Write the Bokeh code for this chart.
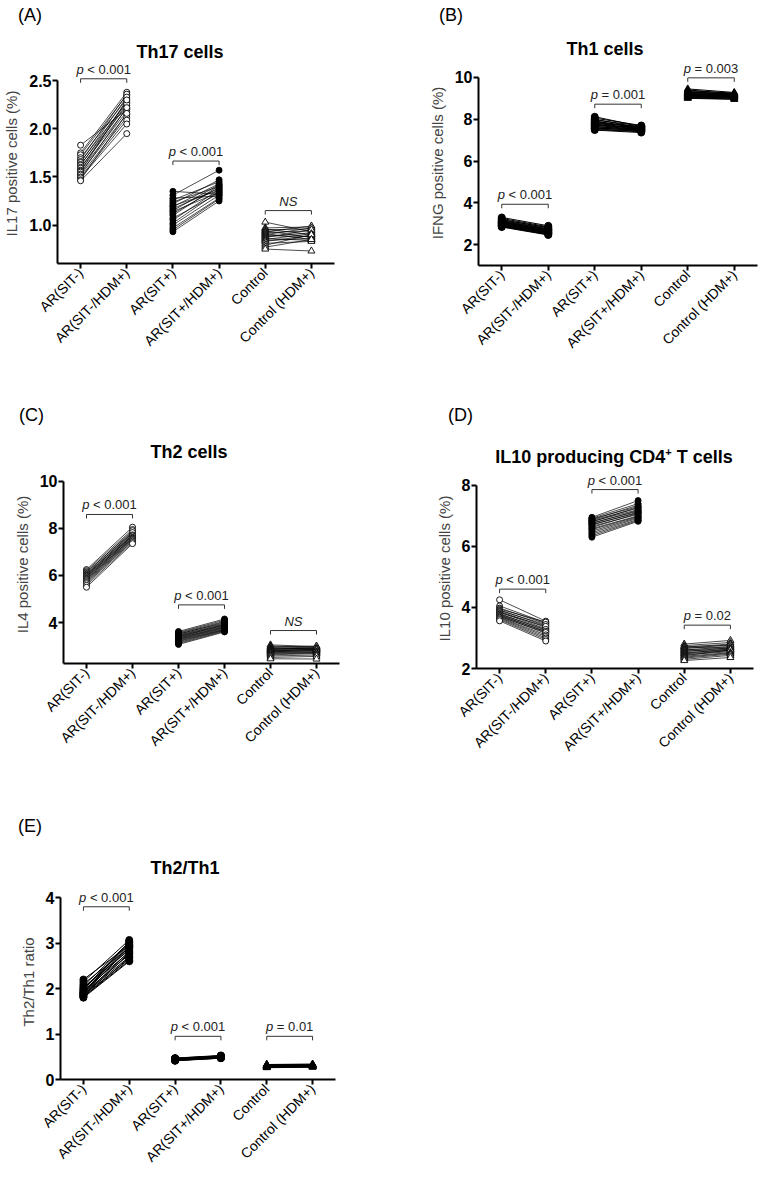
import math
from bokeh.plotting import figure
from bokeh.models import (LinearAxis, FixedTicker, Label, ColumnDataSource, Range1d, Div)
from bokeh.layouts import column, row
from bokeh.embed import file_html
from bokeh.resources import INLINE

FONT = "Liberation Sans"

categories = ["AR(SIT-)", "AR(SIT-/HDM+)", "AR(SIT+)", "AR(SIT+/HDM+)", "Control", "Control (HDM+)"]

# ---------------- (A) Th17 cells: IL17 positive cells (%) ----------------
th17_sitneg_pre = [1.83, 1.75, 1.73, 1.70, 1.68, 1.66, 1.65, 1.63, 1.62, 1.60, 1.59, 1.57, 1.56, 1.55, 1.53, 1.52, 1.50, 1.49, 1.47, 1.46]
th17_sitneg_post = [2.20, 2.38, 2.35, 2.31, 2.36, 2.27, 2.33, 2.24, 2.29, 2.21, 2.26, 2.18, 2.30, 2.15, 2.22, 2.12, 2.09, 2.05, 2.16, 1.95]
th17_sitpos_pre = [1.35, 1.31, 1.28, 1.26, 1.24, 1.22, 1.20, 1.19, 1.17, 1.15, 1.14, 1.12, 1.10, 1.07, 1.05, 1.02, 1.00, 0.97, 0.95, 0.93]
th17_sitpos_post = [1.32, 1.57, 1.30, 1.45, 1.40, 1.47, 1.36, 1.43, 1.38, 1.42, 1.34, 1.39, 1.41, 1.33, 1.37, 1.35, 1.31, 1.28, 1.27, 1.25]
th17_ctrl_pre = [1.03, 0.97, 0.96, 0.95, 0.94, 0.93, 0.92, 0.91, 0.90, 0.89, 0.88, 0.87, 0.86, 0.85, 0.84, 0.83, 0.81, 0.79, 0.77, 0.75]
th17_ctrl_post = [0.93, 0.98, 0.90, 0.96, 0.87, 0.99, 0.94, 0.85, 0.97, 0.88, 0.92, 0.95, 0.84, 0.91, 0.86, 0.89, 0.83, 0.90, 0.85, 0.73]
th17_pvalues = ["p < 0.001", "p < 0.001", "NS"]
th17_brackets = [2.52, 1.665, 1.15]
th17_yticks = [1.0, 1.5, 2.0, 2.5]
th17_ytick_labels = ["1.0", "1.5", "2.0", "2.5"]

# ---------------- (B) Th1 cells: IFNG positive cells (%) ----------------
th1_sitneg_pre = [3.30, 3.25, 3.20, 3.18, 3.15, 3.12, 3.10, 3.08, 3.06, 3.04, 3.02, 3.00, 2.98, 2.96, 2.94, 2.92, 2.90, 2.88, 2.86, 2.84]
th1_sitneg_post = [2.90, 2.85, 2.80, 2.82, 2.76, 2.72, 2.74, 2.68, 2.70, 2.65, 2.62, 2.66, 2.60, 2.58, 2.55, 2.57, 2.52, 2.50, 2.48, 2.46]
th1_sitpos_pre = [8.12, 8.05, 8.00, 7.96, 7.92, 7.88, 7.85, 7.82, 7.80, 7.77, 7.74, 7.72, 7.69, 7.66, 7.63, 7.60, 7.57, 7.54, 7.51, 7.48]
th1_sitpos_post = [7.65, 7.70, 7.58, 7.68, 7.55, 7.62, 7.60, 7.52, 7.66, 7.50, 7.57, 7.48, 7.63, 7.46, 7.53, 7.44, 7.49, 7.42, 7.40, 7.36]
th1_ctrl_pre = [9.45, 9.40, 9.36, 9.33, 9.30, 9.28, 9.26, 9.24, 9.22, 9.20, 9.18, 9.16, 9.14, 9.12, 9.10, 9.08, 9.06, 9.04, 9.02, 9.00]
th1_ctrl_post = [9.28, 9.22, 9.25, 9.18, 9.20, 9.15, 9.23, 9.12, 9.17, 9.10, 9.14, 9.08, 9.11, 9.06, 9.04, 9.09, 9.02, 9.00, 8.97, 8.95]
th1_pvalues = ["p < 0.001", "p = 0.001", "p = 0.003"]
th1_brackets = [3.93, 8.72, 9.98]
th1_yticks = [2, 4, 6, 8, 10]
th1_ytick_labels = ["2", "4", "6", "8", "10"]

# ---------------- (C) Th2 cells: IL4 positive cells (%) ----------------
th2_sitneg_pre = [6.25, 6.20, 6.15, 6.12, 6.08, 6.05, 6.02, 6.00, 5.97, 5.94, 5.91, 5.88, 5.85, 5.82, 5.78, 5.74, 5.70, 5.65, 5.58, 5.50]
th2_sitneg_post = [8.05, 7.95, 7.85, 7.90, 7.80, 7.75, 7.82, 7.70, 7.72, 7.66, 7.68, 7.62, 7.60, 7.58, 7.55, 7.52, 7.48, 7.45, 7.40, 7.35]
th2_sitpos_pre = [3.62, 3.58, 3.55, 3.52, 3.50, 3.47, 3.45, 3.42, 3.40, 3.38, 3.35, 3.33, 3.30, 3.28, 3.25, 3.22, 3.19, 3.15, 3.11, 3.07]
th2_sitpos_post = [4.15, 4.10, 4.05, 3.98, 4.02, 3.95, 3.92, 3.88, 3.90, 3.85, 3.82, 3.80, 3.78, 3.75, 3.72, 3.70, 3.68, 3.66, 3.63, 3.60]
th2_ctrl_pre = [3.05, 3.00, 2.97, 2.94, 2.91, 2.89, 2.87, 2.85, 2.83, 2.81, 2.79, 2.77, 2.75, 2.72, 2.70, 2.67, 2.63, 2.58, 2.52, 2.46]
th2_ctrl_post = [2.98, 2.95, 2.92, 3.00, 2.88, 2.90, 2.86, 2.93, 2.84, 2.80, 2.87, 2.78, 2.82, 2.75, 2.73, 2.70, 2.68, 2.62, 2.56, 2.45]
th2_pvalues = ["p < 0.001", "p < 0.001", "NS"]
th2_brackets = [8.59, 4.75, 3.66]
th2_yticks = [4, 6, 8, 10]
th2_ytick_labels = ["4", "6", "8", "10"]

# ---------------- (D) IL10 producing CD4+ T cells ----------------
il10_sitneg_pre = [4.25, 4.05, 3.98, 3.95, 3.92, 3.90, 3.87, 3.85, 3.83, 3.80, 3.78, 3.76, 3.74, 3.72, 3.70, 3.68, 3.66, 3.63, 3.60, 3.56]
il10_sitneg_post = [3.55, 3.50, 3.47, 3.52, 3.40, 3.44, 3.35, 3.30, 3.38, 3.25, 3.28, 3.20, 3.22, 3.15, 3.18, 3.10, 3.05, 3.00, 2.95, 2.90]
il10_sitpos_pre = [6.95, 6.92, 6.90, 6.87, 6.85, 6.82, 6.80, 6.77, 6.75, 6.72, 6.70, 6.66, 6.62, 6.58, 6.55, 6.50, 6.45, 6.40, 6.35, 6.30]
il10_sitpos_post = [7.50, 7.40, 7.30, 7.35, 7.25, 7.20, 7.28, 7.15, 7.18, 7.10, 7.12, 7.05, 7.08, 7.00, 6.98, 6.95, 6.92, 6.88, 6.85, 6.82]
il10_ctrl_pre = [2.80, 2.75, 2.72, 2.70, 2.68, 2.65, 2.62, 2.60, 2.58, 2.55, 2.52, 2.50, 2.48, 2.45, 2.42, 2.40, 2.37, 2.34, 2.30, 2.26]
il10_ctrl_post = [2.92, 2.85, 2.75, 2.80, 2.70, 2.78, 2.66, 2.72, 2.62, 2.68, 2.60, 2.64, 2.58, 2.55, 2.61, 2.52, 2.50, 2.47, 2.43, 2.36]
il10_pvalues = ["p < 0.001", "p < 0.001", "p = 0.02"]
il10_brackets = [4.60, 7.86, 3.42]
il10_yticks = [2, 4, 6, 8]
il10_ytick_labels = ["2", "4", "6", "8"]

# ---------------- (E) Th2/Th1 ratio ----------------
ratio_sitneg_pre = [2.20, 2.15, 2.10, 2.06, 2.03, 2.00, 1.98, 1.96, 1.94, 1.92, 1.91, 1.90, 1.88, 1.87, 1.86, 1.85, 1.84, 1.82, 1.81, 1.80]
ratio_sitneg_post = [2.95, 3.07, 2.90, 3.02, 2.85, 3.00, 2.97, 2.80, 2.93, 2.88, 3.04, 2.75, 2.92, 2.70, 2.82, 2.65, 2.78, 2.62, 2.68, 2.60]
ratio_sitpos_pre = [0.47, 0.47, 0.46, 0.46, 0.46, 0.45, 0.45, 0.45, 0.45, 0.44, 0.44, 0.44, 0.44, 0.43, 0.43, 0.43, 0.42, 0.42, 0.42, 0.41]
ratio_sitpos_post = [0.53, 0.52, 0.52, 0.51, 0.51, 0.51, 0.50, 0.50, 0.50, 0.50, 0.49, 0.49, 0.49, 0.49, 0.48, 0.48, 0.48, 0.47, 0.47, 0.47]
ratio_ctrl_pre = [0.33, 0.33, 0.32, 0.32, 0.32, 0.31, 0.31, 0.31, 0.31, 0.30, 0.30, 0.30, 0.29, 0.29, 0.29, 0.28, 0.28, 0.27, 0.27, 0.26]
ratio_ctrl_post = [0.34, 0.33, 0.33, 0.33, 0.32, 0.32, 0.32, 0.31, 0.31, 0.31, 0.31, 0.30, 0.30, 0.30, 0.29, 0.29, 0.29, 0.28, 0.28, 0.27]
ratio_pvalues = ["p < 0.001", "p < 0.001", "p = 0.01"]
ratio_brackets = [3.80, 0.95, 0.95]
ratio_yticks = [0, 1, 2, 3, 4]
ratio_ytick_labels = ["0", "1", "2", "3", "4"]

# Arial / Liberation Sans advance widths (per em) for centring the mixed-style p labels
CHAR_W = {"p": 0.556, " ": 0.278, "<": 0.584, "=": 0.584, ".": 0.278, "N": 0.722, "S": 0.667}
for _d in "0123456789":
    CHAR_W[_d] = 0.556
P_SIZE = 13


def text_width(s, size):
    return sum(CHAR_W.get(c, 0.556) for c in s) * size


def make_header(letter, title, width, height, letter_xy, title_xy):
    """HTML strip above a panel holding the panel letter and the bold title."""
    lx, ly = letter_xy
    tx, ty = title_xy
    html = (
        f'<div style="position:relative;width:{width}px;height:{height}px;margin:0;padding:0;'
        f'overflow:visible;font-family:\'{FONT}\',Arial,sans-serif;color:black;">'
        f'<span style="position:absolute;left:{lx}px;top:{ly - 10}px;height:20px;line-height:20px;'
        f'font-size:18px;font-weight:normal;white-space:nowrap;">({letter})</span>'
        f'<span style="position:absolute;left:{tx - 170}px;width:340px;top:{ty - 10}px;height:20px;'
        f'line-height:20px;font-size:18px;font-weight:bold;text-align:center;white-space:nowrap;">'
        f'{title}</span></div>'
    )
    return Div(text=html, width=width, height=height, margin=0)


def make_panel(ylabel, groups, pvalues, brackets, yticks, ytick_labels,
               ybottom, yaxis_top, ytop, geom, dense=False):
    fw, fh, bl, br, bt, bb = geom
    p = figure(frame_width=fw, frame_height=fh, output_backend="svg", toolbar_location=None,
               x_range=Range1d(-0.5, 5.5), y_range=Range1d(ybottom, ytop),
               x_axis_type=None, y_axis_type=None,
               min_border_left=bl, min_border_right=br, min_border_top=bt, min_border_bottom=bb)
    p.outline_line_color = None
    p.background_fill_color = "white"
    p.border_fill_color = "white"

    # axes
    yaxis = LinearAxis(bounds=(ybottom, yaxis_top), ticker=FixedTicker(ticks=yticks, minor_ticks=[]),
                       major_label_overrides={t: s for t, s in zip(yticks, ytick_labels)},
                       axis_label=ylabel)
    xaxis = LinearAxis(bounds=(-0.5, 5.5), ticker=FixedTicker(ticks=[0, 1, 2, 3, 4, 5], minor_ticks=[]),
                       major_label_overrides={i: c for i, c in enumerate(categories)},
                       major_label_orientation=math.pi / 4)
    for ax in (yaxis, xaxis):
        ax.axis_line_width = 2
        ax.axis_line_color = "black"
        ax.major_tick_line_width = 2
        ax.major_tick_line_color = "black"
        ax.major_tick_out = 5
        ax.major_tick_in = 0
        ax.minor_tick_line_color = None
        ax.major_label_text_font = FONT
        ax.major_label_text_color = "black"
    yaxis.major_label_text_font_size = "16px"
    yaxis.major_label_text_font_style = "bold"
    yaxis.major_label_standoff = 1
    yaxis.axis_label_text_font = FONT
    yaxis.axis_label_text_font_size = "15px"
    yaxis.axis_label_text_font_style = "normal"
    yaxis.axis_label_standoff = 6
    xaxis.major_label_text_font_size = "14px"
    xaxis.major_label_standoff = 2
    p.add_layout(yaxis, "left")
    p.add_layout(xaxis, "below")

    # paired data: open circles (SIT-), filled circles (SIT+), triangles (control)
    styles = [("circle", "black" if dense else "white", 7 if dense else 6),
              ("circle", "black", 7 if dense else 6),
              ("triangle", "black" if dense else "white", 7)]
    for gi, (pre, post) in enumerate(groups):
        marker, fill, size = styles[gi]
        x0 = 2 * gi
        n = len(pre)
        src = ColumnDataSource(dict(x0=[x0] * n, x1=[x0 + 1] * n, y0=pre, y1=post))
        p.segment("x0", "y0", "x1", "y1", source=src, line_color="black",
                  line_width=1.0 if dense else 0.7)
        p.scatter(x="x0", y="y0", source=src, marker=marker, size=size,
                  fill_color=fill, line_color="black", line_width=0.9)
        p.scatter(x="x1", y="y1", source=src, marker=marker, size=size,
                  fill_color=fill, line_color="black", line_width=0.9)

    # significance brackets
    tick = 4 * (ytop - ybottom) / fh
    space_w = text_width(" ", P_SIZE)
    for gi, (ptxt, yb) in enumerate(zip(pvalues, brackets)):
        x0 = 2 * gi
        p.line(x=[x0, x0, x0 + 1, x0 + 1], y=[yb - tick, yb, yb, yb - tick],
               line_color="#333333", line_width=1)
        xc = x0 + 0.5
        if ptxt.startswith("p"):
            head, rest = "p", ptxt[1:]
            shift = (text_width(head, P_SIZE) - text_width(rest, P_SIZE)) / 2
            p.add_layout(Label(x=xc, y=yb, x_offset=shift, y_offset=2, text=head,
                               text_font=FONT, text_font_size=f"{P_SIZE}px", text_font_style="italic",
                               text_align="right", text_baseline="bottom", text_color="#222222"))
            p.add_layout(Label(x=xc, y=yb, x_offset=shift + space_w, y_offset=2, text=rest.strip(),
                               text_font=FONT, text_font_size=f"{P_SIZE}px", text_font_style="normal",
                               text_align="left", text_baseline="bottom", text_color="#222222"))
        else:
            p.add_layout(Label(x=xc, y=yb, y_offset=2, text=ptxt,
                               text_font=FONT, text_font_size=f"{P_SIZE}px", text_font_style="italic",
                               text_align="center", text_baseline="bottom", text_color="#222222"))
    return p


# ---- row 1 (0..400) ----
hA = make_header("A", "Th17 cells", 382, 60, (18, 14.5), (180, 51.5))
pA = make_panel("IL17 positive cells (%)",
                [(th17_sitneg_pre, th17_sitneg_post), (th17_sitpos_pre, th17_sitpos_post),
                 (th17_ctrl_pre, th17_ctrl_post)],
                th17_pvalues, th17_brackets, th17_yticks, th17_ytick_labels,
                0.6, 2.5, 2.679, (277, 200, 56, 49, 3, 137))

hB = make_header("B", "Th1 cells", 382, 58, (56, 14.5), (222, 48.5))
pB = make_panel("IFNG positive cells (%)",
                [(th1_sitneg_pre, th1_sitneg_post), (th1_sitpos_pre, th1_sitpos_post),
                 (th1_ctrl_pre, th1_ctrl_post)],
                th1_pvalues, th1_brackets, th1_yticks, th1_ytick_labels,
                1.0, 10, 10.81, (279, 205, 95, 8, 2, 135), dense=True)

# ---- row 2 (400..800) ----
hC = make_header("C", "Th2 cells", 382, 60, (19, 14.5), (189, 52))
pC = make_panel("IL4 positive cells (%)",
                [(th2_sitneg_pre, th2_sitneg_post), (th2_sitpos_pre, th2_sitpos_post),
                 (th2_ctrl_pre, th2_ctrl_post)],
                th2_pvalues, th2_brackets, th2_yticks, th2_ytick_labels,
                2.26, 10, 10.67, (276, 198, 63, 43, 5, 137))

hD = make_header("D", "IL10 producing CD4<sup style=\"font-size:11px;line-height:0;\">+</sup> T cells",
                 382, 67, (66, 15), (232, 57))
pD = make_panel("IL10 positive cells (%)",
                [(il10_sitneg_pre, il10_sitneg_post), (il10_sitpos_pre, il10_sitpos_post),
                 (il10_ctrl_pre, il10_ctrl_post)],
                il10_pvalues, il10_brackets, il10_yticks, il10_ytick_labels,
                2.0, 8, 8.55, (277, 200, 94, 11, 1, 132))

# ---- row 3 (800..1180) ----
hE = make_header("E", "Th2/Th1", 382, 78, (18, 26), (185, 68))
pE = make_panel("Th2/Th1 ratio",
                [(ratio_sitneg_pre, ratio_sitneg_post), (ratio_sitpos_pre, ratio_sitpos_post),
                 (ratio_ctrl_pre, ratio_ctrl_post)],
                ratio_pvalues, ratio_brackets, ratio_yticks, ratio_ytick_labels,
                0.0, 4, 4.29, (275, 195, 60, 47, 6, 100), dense=True)

layout = column(row(column(hA, pA), column(hB, pB)),
                row(column(hC, pC), column(hD, pD)),
                row(column(hE, pE)))

open("out.html", "w").write(file_html(layout, INLINE))
